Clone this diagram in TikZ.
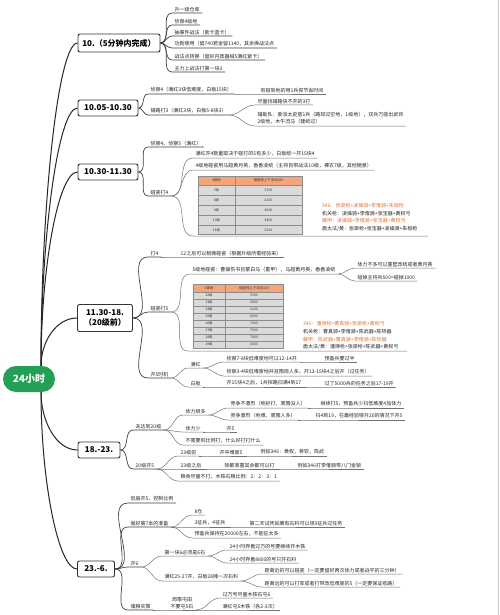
\documentclass[tikz,border=0pt]{standalone}
\usepackage{fontspec}
\setmainfont{Noto Sans CJK SC}
\definecolor{rootgreen}{RGB}{36,160,86}
\definecolor{hdr}{RGB}{244,166,122}
\definecolor{orng}{RGB}{226,118,58}
\definecolor{rowg}{RGB}{218,218,218}
\newcommand\lk[3][lnk]{\draw[#1] (#2) to[out=0,in=180] (#3.south west) -- (#3.south east);}
\begin{document}
\begin{tikzpicture}[x=1pt,y=-1pt,
  leaf/.style={anchor=south west, inner xsep=2.5pt, inner ysep=1.3pt, font=\fontsize{5}{7}\selectfont, text=black!85},
  lnk/.style={draw=black!55, line width=0.5pt},
  lnkm/.style={draw=black!75, line width=0.7pt},
  trunk/.style={draw=black!85, line width=1pt},
  mainbox/.style={draw=black!80, line width=0.9pt, rounded corners=2pt, fill=white, font=\fontsize{8}{10}\selectfont\bfseries, minimum height=16pt, inner xsep=4pt, inner ysep=2pt},
  rootbox/.style={fill=rootgreen, rounded corners=13pt, text=white, font=\fontsize{10}{12}\selectfont\bfseries, minimum width=52pt, minimum height=26pt},
  cell/.style={font=\fontsize{3.4}{4}\selectfont, inner sep=0pt, text=black!80},
  ctext/.style={anchor=north west, inner sep=0pt, align=left, font=\fontsize{5}{7.6}\selectfont, text=black!85}]
\useasboundingbox (0,0) rectangle (500,615);
\fill[white] (0,0) rectangle (500,615);
\draw[black!22, line width=0.6pt] (498,0) -- (498,615);

% root and main nodes
\node[rootbox] (root) at (29,379) {24小时};
\node[mainbox, minimum width=82pt, minimum height=18pt] (m1) at (119,43) {10.（5分钟内完成）};
\node[mainbox, minimum width=60pt] (m2) at (108,108) {10.05-10.30};
\node[mainbox, minimum width=60pt] (m3) at (108,172) {10.30-11.30};
\node[mainbox, minimum width=55pt, minimum height=27pt, align=center] (m4) at (105,318) {11.30-18.\\（20级前）};
\node[mainbox, minimum width=42pt] (m5) at (99,450) {18.-23.};
\node[mainbox, minimum width=37pt] (m6) at (96,569) {23.-6.};

\coordinate (rt) at ([xshift=12pt]root.north);
\coordinate (rb) at ([xshift=12pt]root.south);
\draw[trunk] (rt) .. controls (41,205) and (58,43) .. (m1.west);
\draw[trunk] (rt) .. controls (41,237) and (58,108) .. (m2.west);
\draw[trunk] (rt) .. controls (41,269) and (58,172) .. (m3.west);
\draw[trunk] (rt) .. controls (41,342) and (56,318) .. (m4.west);
\draw[trunk] (rb) .. controls (41,421) and (56,450) .. (m5.west);
\draw[trunk] (rb) .. controls (41,480) and (58,569) .. (m6.west);

% section 1
\node[leaf] (a1) at (172,13) {升一级仓库};
\node[leaf] (a2) at (172,25) {侦察4级地};
\node[leaf] (a3) at (172,36) {抽事件战法（紫卡蓝卡）};
\node[leaf] (a4) at (172,48) {功勋使用（留740若金留1140，其余换战法点};
\node[leaf] (a5) at (172,60) {战法点转换（留好内政器械5满红紫卡）};
\node[leaf] (a6) at (172,72) {主力上战法打第一块3};
\foreach \n in {a1,a2,a3,a4,a5,a6}{\lk[lnkm]{m1.east}{\n}}

% section 2
\node[leaf] (b1) at (148,94) {侦察4（满红3块低难度，白板15块）};
\node[leaf] (b1a) at (258,94) {有碰到地的用1兵探节省时间};
\node[leaf] (b2) at (148,115) {铺路打3（满红3块，白板5-8块3）};
\node[leaf] (b2a) at (255,105) {尽量找铺路快不开的3打};
\node[leaf, align=left] (b2b) at (255,126) {辅助队：委派太史慈1兵（路却过空地，1级地），双兵万能出武将\\2级地，木牛流马（建统过）};
\lk[lnkm]{m2.east}{b1}
\lk[lnkm]{m2.east}{b2}
\lk{b1.south east}{b1a}
\lk{b2.south east}{b2a}
\lk{b2.south east}{b2b}

% section 3
\node[leaf] (c1) at (148,147) {侦察4、侦察5（满红）};
\node[leaf] (c2) at (148,196) {碰瓷打4};
\node[leaf] (c2a) at (193,158) {满红开4数量取决于碰打的5有多少，白板统一开15块4};
\node[leaf] (c2b) at (193,170) {4级地碰瓷用马超黄月英，香香凌统（主将自带战法10级，裸衣7级，其他随意）};
\lk[lnkm]{m3.east}{c1}
\lk[lnkm]{m3.east}{c2}
\lk{c2.south east}{c2a}
\lk{c2.south east}{c2b}
% table 1
\fill[hdr] (198,176) rectangle (302,185);
\node[cell] (t1h1) at (216.5,180.5) {4级地};
\node[cell] (t1h2) at (268.5,180.5) {碰瓷残上下浮动100};
\foreach \i/\a/\b in {0/7级/3700,1/8级/4200,2/9级/4600,3/10级/4800,4/11级/5200} {
  \fill[rowg] (198,{185+10*\i}) rectangle (302,{195+10*\i});
  \node[cell] (t1a\i) at (216.5,{190+10*\i}) {\a};
  \node[cell] (t1b\i) at (268.5,{190+10*\i}) {\b};
  \draw[black!45, line width=0.3pt] (198,{185+10*\i}) -- (302,{185+10*\i});
}
\draw[black!45, line width=0.3pt] (198,176) rectangle (302,234) (235,176) -- (235,234);
\node[ctext] (k1) at (322,203) {\textcolor{orng}{346：张梁枪+凌操骑+李傕骑+朱桓枪}\\机关枪：凌操骑+李傕骑+张宝器+黄权弓\\\textcolor{orng}{藤甲：凌操骑+李傕骑+张宝器+黄权弓}\\盾太法/黄：张梁枪+张宝器+凌操骑+朱桓枪};
\coordinate (g1w) at (193,236);
\coordinate (g1e) at (428,236);
\draw[lnk] (c2.south east) to[out=0,in=180] (g1w) -- (g1e);

% section 4
\node[leaf] (d1) at (148,257) {打4};
\node[leaf] (d1a) at (178,257) {12之后可以稍微碰瓷（根据升级所需经验来）};
\node[leaf] (d2) at (148,312) {碰瓷打5};
\node[leaf] (d2a) at (190,274) {5级地碰瓷：曹操伤书吕蒙白马（重甲），马超黄月英，香香凌统};
\node[leaf] (d2a1) at (355,268) {体力不多可以重壁改统或者黄月英};
\node[leaf] (d2a2) at (355,281) {碰掉主将兵500=碰掉1000};
\node[leaf] (d3) at (148,378) {开5时机};
\node[leaf] (d3a) at (188,368) {满红};
\node[leaf] (d3a1) at (224,362) {侦察7-8块低难度地可以12-14开};
\node[leaf] (d3a1a) at (322,362) {预备兵要过半};
\node[leaf] (d3a2) at (224,376) {侦察3-4块低难度地并且围观人多，开13-15块4之后开（过任务）};
\node[leaf] (d3b) at (188,387) {白板};
\node[leaf] (d3b1) at (224,387) {开15块4之后，1兵探路扫满4到17};
\node[leaf] (d3b1a) at (322,387) {过了5000兵的任务之后17-19开};
\lk[lnkm]{m4.east}{d1}
\lk[lnkm]{m4.east}{d2}
\lk[lnkm]{m4.east}{d3}
\lk{d1.south east}{d1a}
\lk{d2.south east}{d2a}
\lk{d2a.south east}{d2a1}
\lk{d2a.south east}{d2a2}
\lk{d3.south east}{d3a}
\lk{d3.south east}{d3b}
\lk{d3a.south east}{d3a1}
\lk{d3a1.south east}{d3a1a}
\lk{d3a.south east}{d3a2}
\lk{d3b.south east}{d3b1}
\lk{d3b1.south east}{d3b1a}
% table 2
\fill[hdr] (193,284) rectangle (283,292);
\node[cell] (t2h1) at (209,288) {5级地};
\node[cell] (t2h2) at (254,288) {碰瓷残上下浮动100};
\foreach \i/\a/\b in {0/12级/5300,1/13级/5800,2/14级/6200,3/15级/6600,4/16级/7000,5/17级/7500,6/18级/7800,7/19级/8000} {
  \fill[rowg] (193,{292+7*\i}) rectangle (283,{299+7*\i});
  \node[cell] (t2a\i) at (209,{295.5+7*\i}) {\a};
  \node[cell] (t2b\i) at (254,{295.5+7*\i}) {\b};
  \draw[black!45, line width=0.3pt] (193,{292+7*\i}) -- (283,{292+7*\i});
}
\draw[black!45, line width=0.3pt] (193,284) rectangle (283,348) (225,284) -- (225,348);
\node[ctext] (k2) at (303,321.5) {\textcolor{orng}{346：潘璋枪+曹真骑+张梁枪+黄权弓}\\机关枪：曹真骑+李傕骑+陈武器+陈矫器\\\textcolor{orng}{藤甲：陈武器+曹真骑+李傕骑+陈矫器}\\盾太法/黄：潘璋枪+张梁枪+陈武器+黄权弓};
\coordinate (g2w) at (188,351);
\coordinate (g2e) at (407,351);
\draw[lnk] (d2.south east) to[out=0,in=180] (g2w) -- (g2e);

% section 5
\node[leaf] (e1) at (133,430) {未达到20级};
\node[leaf] (e1a) at (183,415) {体力很多};
\node[leaf] (e1a1) at (228,408) {竞争不激烈（地好打，周围没人）};
\node[leaf] (e1a1a) at (318,408) {继续打5，预备兵少扫低难度4加体力};
\node[leaf] (e1a2) at (228,420) {竞争激烈（地难，周围人多）};
\node[leaf] (e1a2a) at (313,420) {扫4到19，在最经验够升20的情况下开5};
\node[leaf] (e1b) at (183,432) {体力少};
\node[leaf] (e1b1) at (224,432) {开5};
\node[leaf] (e1c) at (183,445) {不需要刻比例打，什么好打打什么};
\node[leaf] (e2) at (133,469) {20级开5};
\node[leaf] (e2a) at (178,456) {23级前};
\node[leaf] (e2a1) at (217,456) {开中难度5};
\node[leaf] (e2a1a) at (258,456) {例如346：黄权，蒋钦，陈武};
\node[leaf] (e2b) at (178,469) {23级之后};
\node[leaf] (e2b1) at (222,469) {除都准重其余都可以打};
\node[leaf] (e2b1a) at (295,469) {例如346打李傕骑带八门金锁};
\node[leaf] (e2c) at (178,481) {粮食尽量不打，木铁石粮比例：2：2：3：1};
\lk[lnkm]{m5.east}{e1}
\lk[lnkm]{m5.east}{e2}
\lk{e1.south east}{e1a}
\lk{e1.south east}{e1b}
\lk{e1.south east}{e1c}
\lk{e1a.south east}{e1a1}
\lk{e1a.south east}{e1a2}
\lk{e1a1.south east}{e1a1a}
\lk{e1a2.south east}{e1a2a}
\lk{e1b.south east}{e1b1}
\lk{e2.south east}{e2a}
\lk{e2.south east}{e2b}
\lk{e2.south east}{e2c}
\lk{e2a.south east}{e2a1}
\lk{e2a1.south east}{e2a1a}
\lk{e2b.south east}{e2b1}
\lk{e2b1.south east}{e2b1a}

% section 6
\node[leaf] (f1) at (128,503) {低扇开5，控制比例};
\node[leaf] (f2) at (128,527) {做好第7本的准备};
\node[leaf] (f2a) at (192,515) {8仓};
\node[leaf] (f2b) at (192,527) {3征兵，4征兵};
\node[leaf] (f2b1) at (247,527) {第二天试凭如果有石料可以领3征兵过任务};
\node[leaf] (f2c) at (192,538) {预备兵保持在20000左右，不能征太多};
\node[leaf] (f3) at (128,567) {开6};
\node[leaf] (f3a) at (162,556) {第一块6必须是6石};
\node[leaf] (f3a1) at (227,550) {24小时弃着过万的号要继续开木铁};
\node[leaf] (f3a2) at (227,563) {24小时弃着8800的号只开石料};
\node[leaf] (f3b) at (162,581) {满红25-27开，白板28摊一次石料};
\node[leaf] (f3b1) at (262,574) {距离近的可以碰瓷（一定要留好两次体力或者战平的三分钟）};
\node[leaf] (f3b2) at (262,587) {距离远的可以打军或者打带改低难度的5（一定要保证纸路）};
\node[leaf] (f4) at (128,610) {储粮实策};
\node[leaf, align=center] (f4a) at (168,610) {周策屯田\\不要屯5石};
\node[leaf] (f4a1) at (220,598) {过万号尽量木铁石屯6};
\node[leaf] (f4a2) at (220,610) {满红屯5木铁（各2-3次）};
\lk[lnkm]{m6.east}{f1}
\lk[lnkm]{m6.east}{f2}
\lk[lnkm]{m6.east}{f3}
\lk[lnkm]{m6.east}{f4}
\lk{f2.south east}{f2a}
\lk{f2.south east}{f2b}
\lk{f2.south east}{f2c}
\lk{f2b.south east}{f2b1}
\lk{f3.south east}{f3a}
\lk{f3.south east}{f3b}
\lk{f3a.south east}{f3a1}
\lk{f3a.south east}{f3a2}
\lk{f3b.south east}{f3b1}
\lk{f3b.south east}{f3b2}
\lk{f4.south east}{f4a}
\lk{f4a.south east}{f4a1}
\lk{f4a.south east}{f4a2}
\end{tikzpicture}
\end{document}
